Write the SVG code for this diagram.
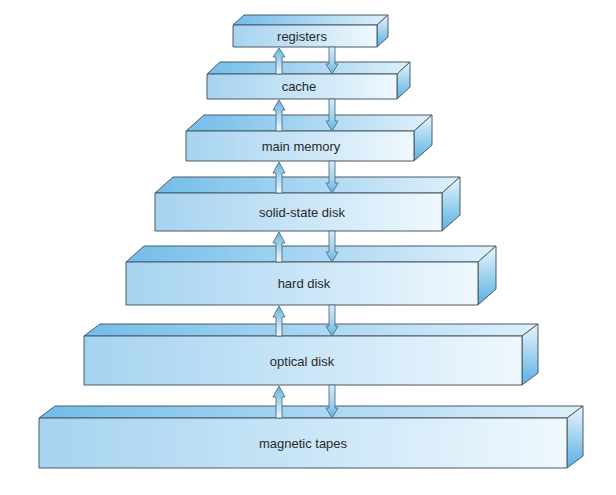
<svg xmlns="http://www.w3.org/2000/svg" width="616" height="495" viewBox="0 0 616 495">
<defs>
<linearGradient id="gFront" x1="0" y1="0" x2="1" y2="0">
<stop offset="0" stop-color="#a6d3f0"/>
<stop offset="0.5" stop-color="#c9e5f7"/>
<stop offset="1" stop-color="#eff8fd"/>
</linearGradient>
<linearGradient id="gTop" x1="0" y1="0" x2="1" y2="0">
<stop offset="0" stop-color="#72bde9"/>
<stop offset="0.5" stop-color="#a9d6f2"/>
<stop offset="1" stop-color="#def0fa"/>
</linearGradient>
<linearGradient id="gSide" x1="0" y1="0" x2="0" y2="1">
<stop offset="0" stop-color="#eaf5fc"/>
<stop offset="1" stop-color="#58b1e3"/>
</linearGradient>
<linearGradient id="gUp" x1="0" y1="0" x2="0" y2="1">
<stop offset="0" stop-color="#5fb2e0"/>
<stop offset="0.4" stop-color="#9fd0ee"/>
<stop offset="1" stop-color="#f2f9fd"/>
</linearGradient>
<linearGradient id="gDown" x1="0" y1="0" x2="0" y2="1">
<stop offset="0" stop-color="#d6ebf8"/>
<stop offset="0.6" stop-color="#9fd0ee"/>
<stop offset="1" stop-color="#5fb2e0"/>
</linearGradient>
</defs>
<style>
.front{fill:url(#gFront);stroke:#4b5b66;stroke-width:1;stroke-linejoin:round}
.top{fill:url(#gTop);stroke:#4b5b66;stroke-width:1;stroke-linejoin:round}
.side{fill:url(#gSide);stroke:#4b5b66;stroke-width:1;stroke-linejoin:round}
.lbl{font-family:"Liberation Sans","DejaVu Sans",sans-serif;font-size:13px;fill:#2a2a2a;text-anchor:middle}
.up{fill:url(#gUp);stroke:#4f6f84;stroke-width:0.9;stroke-linejoin:miter}
.down{fill:url(#gDown);stroke:#4f6f84;stroke-width:0.9;stroke-linejoin:miter}
</style>
<rect width="616" height="495" fill="#ffffff"/>

<g id="registers">
<polygon class="top" points="233,25 244,15 388,15 377,25"/>
<polygon class="side" points="377,25 388,15 388,37 377,47"/>
<rect class="front" x="233" y="25" width="144" height="22"/>
<text class="lbl" x="302" y="40.5">registers</text>
</g>

<g id="cache">
<polygon class="top" points="207,74 220,62 410,62 397,74"/>
<polygon class="side" points="397,74 410,62 410,87 397,99"/>
<rect class="front" x="207" y="74" width="190" height="25"/>
<text class="lbl" x="299" y="91">cache</text>
</g>

<g id="main-memory">
<polygon class="top" points="186,131 204,115 432,115 414,131"/>
<polygon class="side" points="414,131 432,115 432,145 414,161"/>
<rect class="front" x="186" y="131" width="228" height="30"/>
<text class="lbl" x="301" y="151">main memory</text>
</g>

<g id="solid-state-disk">
<polygon class="top" points="155,193 173,177 460,177 442,193"/>
<polygon class="side" points="442,193 460,177 460,215 442,231"/>
<rect class="front" x="155" y="193" width="287" height="38"/>
<text class="lbl" x="302" y="216.5">solid-state disk</text>
</g>

<g id="hard-disk">
<polygon class="top" points="126,262 144,246 496,246 478,262"/>
<polygon class="side" points="478,262 496,246 496,289 478,305"/>
<rect class="front" x="126" y="262" width="352" height="43"/>
<text class="lbl" x="304" y="288">hard disk</text>
</g>

<g id="optical-disk">
<polygon class="top" points="84,336 100,324 538,324 522,336"/>
<polygon class="side" points="522,336 538,324 538,373 522,385"/>
<rect class="front" x="84" y="336" width="438" height="49"/>
<text class="lbl" x="302" y="366">optical disk</text>
</g>

<g id="magnetic-tapes">
<polygon class="top" points="39,418 55,406 583,406 567,418"/>
<polygon class="side" points="567,418 583,406 583,456 567,468"/>
<rect class="front" x="39" y="418" width="528" height="50"/>
<text class="lbl" x="303" y="447.5">magnetic tapes</text>
</g>

<g id="connectors">
<!-- registers / cache -->
<polygon class="up" points="279,48 285,57 282,57 282,74 276,74 276,57 273,57"/>
<polygon class="down" points="329,47 335,47 335,64 338,64 332,74 326,64 329,64"/>
<!-- cache / main memory -->
<polygon class="up" points="279,100 285,110 282,110 282,131 276,131 276,110 273,110"/>
<polygon class="down" points="329,99 335,99 335,121 338,121 332,131 326,121 329,121"/>
<!-- main memory / ssd -->
<polygon class="up" points="279,162 285,173 282,173 282,193 276,193 276,173 273,173"/>
<polygon class="down" points="329,161 335,161 335,183 338,183 332,193 326,183 329,183"/>
<!-- ssd / hard disk -->
<polygon class="up" points="279,232 285,243 282,243 282,262 276,262 276,243 273,243"/>
<polygon class="down" points="329,231 335,231 335,252 338,252 332,262 326,252 329,252"/>
<!-- hard disk / optical -->
<polygon class="up" points="279,306 285,317 282,317 282,336 276,336 276,317 273,317"/>
<polygon class="down" points="329,305 335,305 335,326 338,326 332,336 326,326 329,326"/>
<!-- optical / tapes -->
<polygon class="up" points="279,386 285,397 282,397 282,418 276,418 276,397 273,397"/>
<polygon class="down" points="329,385 335,385 335,408 338,408 332,418 326,408 329,408"/>
</g>
</svg>
